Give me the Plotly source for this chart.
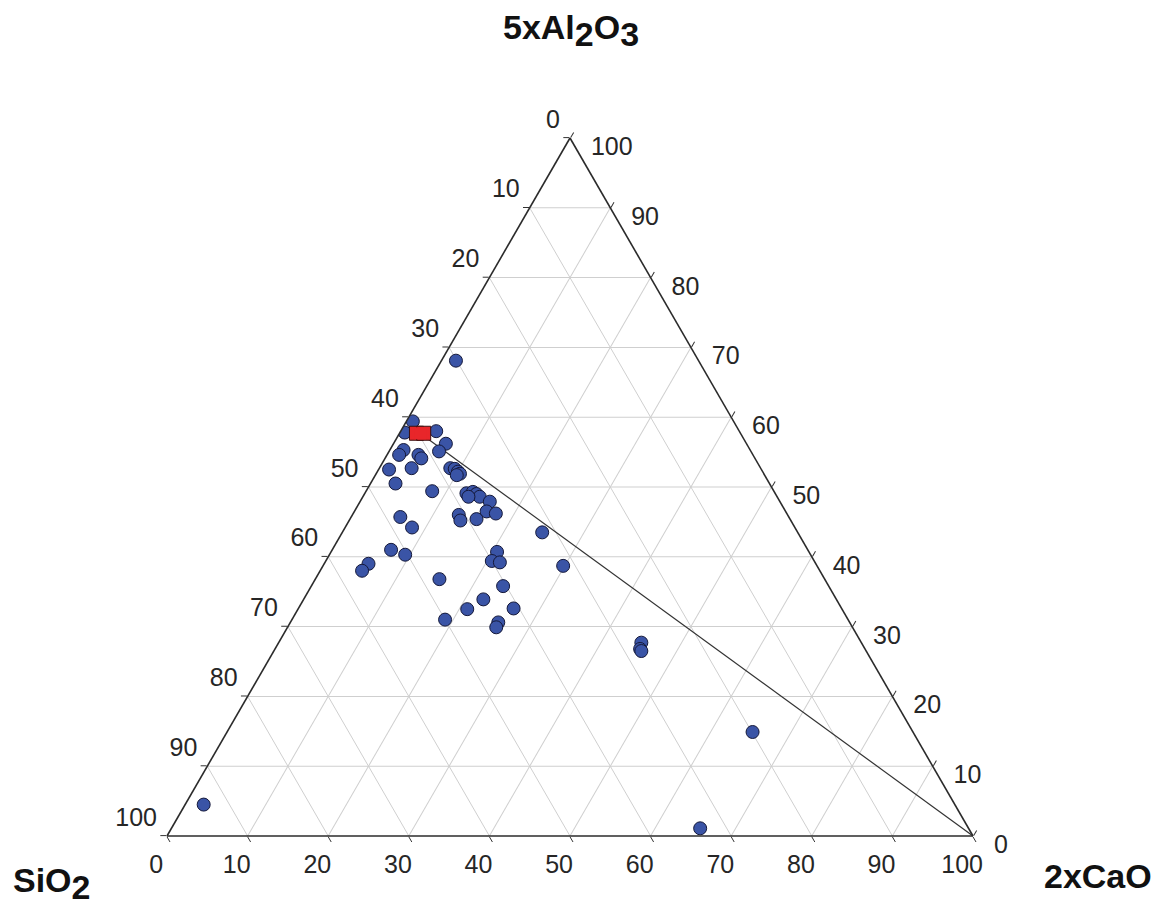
import plotly.graph_objects as go

# ---- data (percent, normalised to 100) ----
# top vertex: 5xAl2O3, bottom-left: SiO2, bottom-right: 2xCaO
al2o3_5x = [68.1, 59.4, 57.8, 58.0, 56.2, 55.1, 55.3, 54.6, 54.6, 54.1,
            52.7, 52.5, 50.5, 52.7, 52.6, 52.2, 51.9, 51.7, 49.4, 49.1,
            49.3, 49.0, 48.6, 48.6, 47.9, 46.5, 46.2, 46.0, 45.2, 45.4,
            45.7, 44.2, 43.5, 41.0, 40.3, 39.0, 38.0, 40.7, 39.4, 39.2,
            38.7, 36.8, 35.8, 33.9, 32.5, 32.6, 31.0, 30.6, 29.9, 27.7,
            26.8, 26.5, 14.9, 1.1, 4.5]
sio2 = [30.1, 39.8, 41.6, 37.6, 37.3, 38.7, 43.0, 43.9, 41.5, 41.4,
        43.3, 46.2, 46.4, 38.5, 38.0, 37.8, 37.7, 38.2, 42.4, 38.3,
        37.4, 37.1, 36.9, 38.3, 36.0, 37.1, 36.1, 40.8, 41.0, 38.9,
        48.2, 47.5, 31.7, 51.7, 50.3, 55.5, 56.8, 38.7, 40.0, 39.1,
        31.5, 47.8, 40.4, 43.8, 46.5, 40.7, 50.0, 43.6, 44.2, 27.3,
        27.9, 27.9, 19.9, 33.3, 93.2]
cao_2x = [1.8, 0.8, 0.6, 4.4, 6.5, 6.2, 1.7, 1.5, 3.9, 4.5,
          4.0, 1.3, 3.1, 8.8, 9.4, 10.0, 10.4, 10.1, 8.2, 12.6,
          13.3, 13.9, 14.5, 13.1, 16.1, 16.4, 17.7, 13.2, 13.8, 15.7,
          6.1, 8.3, 24.8, 7.3, 9.4, 5.5, 5.2, 20.6, 20.6, 21.7,
          29.8, 15.4, 23.8, 22.3, 21.0, 26.7, 19.0, 25.8, 25.9, 45.0,
          45.3, 45.6, 65.2, 65.6, 2.3]

# red reference mark (drawn as a wide box spanning two positions)
red_al2o3 = [57.7, 57.7]
red_sio2 = [40.2, 39.3]
red_cao = [2.1, 3.0]
red_center_al2o3 = [57.7]
red_center_sio2 = [39.75]
red_center_cao = [2.55]

# tie line from the reference composition to the 2xCaO apex
tie_al2o3 = [57.7, 0]
tie_sio2 = [39.75, 0]
tie_cao = [2.55, 100]

tick_vals = [0, 10, 20, 30, 40, 50, 60, 70, 80, 90, 100]
NB = "\u00a0"
# each edge is labelled with the amount of the opposite-running component
a_tick_text = [str(100 - v) + "<br>" + NB for v in tick_vals]           # left edge: SiO2
b_tick_text = [str(100 - v) + NB * 4 for v in tick_vals]                # bottom edge: 2xCaO
c_tick_text = [NB + "<br>" + NB * 2 + str(100 - v) for v in tick_vals]  # right edge: 5xAl2O3

FONT = "Liberation Sans, Arial, sans-serif"
BLUE = "#3a54a6"
RED = "#e8262a"

fig = go.Figure()

fig.add_trace(go.Scatterternary(
    a=tie_al2o3, b=tie_sio2, c=tie_cao, mode="lines",
    line=dict(color="#333333", width=1.2), hoverinfo="skip", showlegend=False))

fig.add_trace(go.Scatterternary(
    a=al2o3_5x, b=sio2, c=cao_2x, mode="markers",
    marker=dict(size=13, color=BLUE, line=dict(color="#15193a", width=1)),
    showlegend=False))

fig.add_trace(go.Scatterternary(
    a=red_al2o3, b=red_sio2, c=red_cao, mode="markers",
    marker=dict(symbol="square", size=14, color=RED, line=dict(color="#3a1010", width=1)),
    showlegend=False))

fig.add_trace(go.Scatterternary(
    a=red_center_al2o3, b=red_center_sio2, c=red_center_cao, mode="markers",
    marker=dict(symbol="square", size=12, color=RED, line=dict(width=0)),
    hoverinfo="skip", showlegend=False))


def axis(ticktext):
    return dict(
        tickmode="array", tickvals=tick_vals, ticktext=ticktext,
        ticks="outside", ticklen=6, tickwidth=1, tickcolor="#333333",
        tickfont=dict(family=FONT, size=25, color="#262626"),
        showline=True, linecolor="#2b2b2b", linewidth=1.6,
        showgrid=True, gridcolor="#cfcfcf", gridwidth=1.2,
        title=dict(text=""),
    )


# the page body adds an 8 px margin around the figure
fig.update_layout(
    width=1148, height=899,
    margin=dict(l=159, r=183, t=130, b=71),
    paper_bgcolor="white",
    font=dict(family=FONT),
    ternary=dict(
        sum=100, bgcolor="white",
        domain=dict(x=[0, 1], y=[0, 1]),
        aaxis=axis(a_tick_text), baxis=axis(b_tick_text), caxis=axis(c_tick_text),
    ),
)

title_font = dict(family=FONT, size=34, color="#111111")
PW, PH = 806, 698


def px(x):  # window pixel -> paper fraction
    return (x - 167) / PW


def py(y):
    return (836 - y) / PH


def sub(s):
    return '<sub><span style="font-size:34px">' + s + '</span></sub>'


fig.add_annotation(text="<b>5xAl" + sub("2") + "O" + sub("3") + "</b>",
                   x=px(571), y=py(30), xref="paper", yref="paper",
                   showarrow=False, font=title_font, xanchor="center", yanchor="middle")
fig.add_annotation(text="<b>SiO" + sub("2") + "</b>",
                   x=px(52), y=py(883), xref="paper", yref="paper",
                   showarrow=False, font=title_font, xanchor="center", yanchor="middle")
fig.add_annotation(text="<b>2xCaO</b>",
                   x=px(1098), y=py(876), xref="paper", yref="paper",
                   showarrow=False, font=title_font, xanchor="center", yanchor="middle")

fig.write_html("out.html")
